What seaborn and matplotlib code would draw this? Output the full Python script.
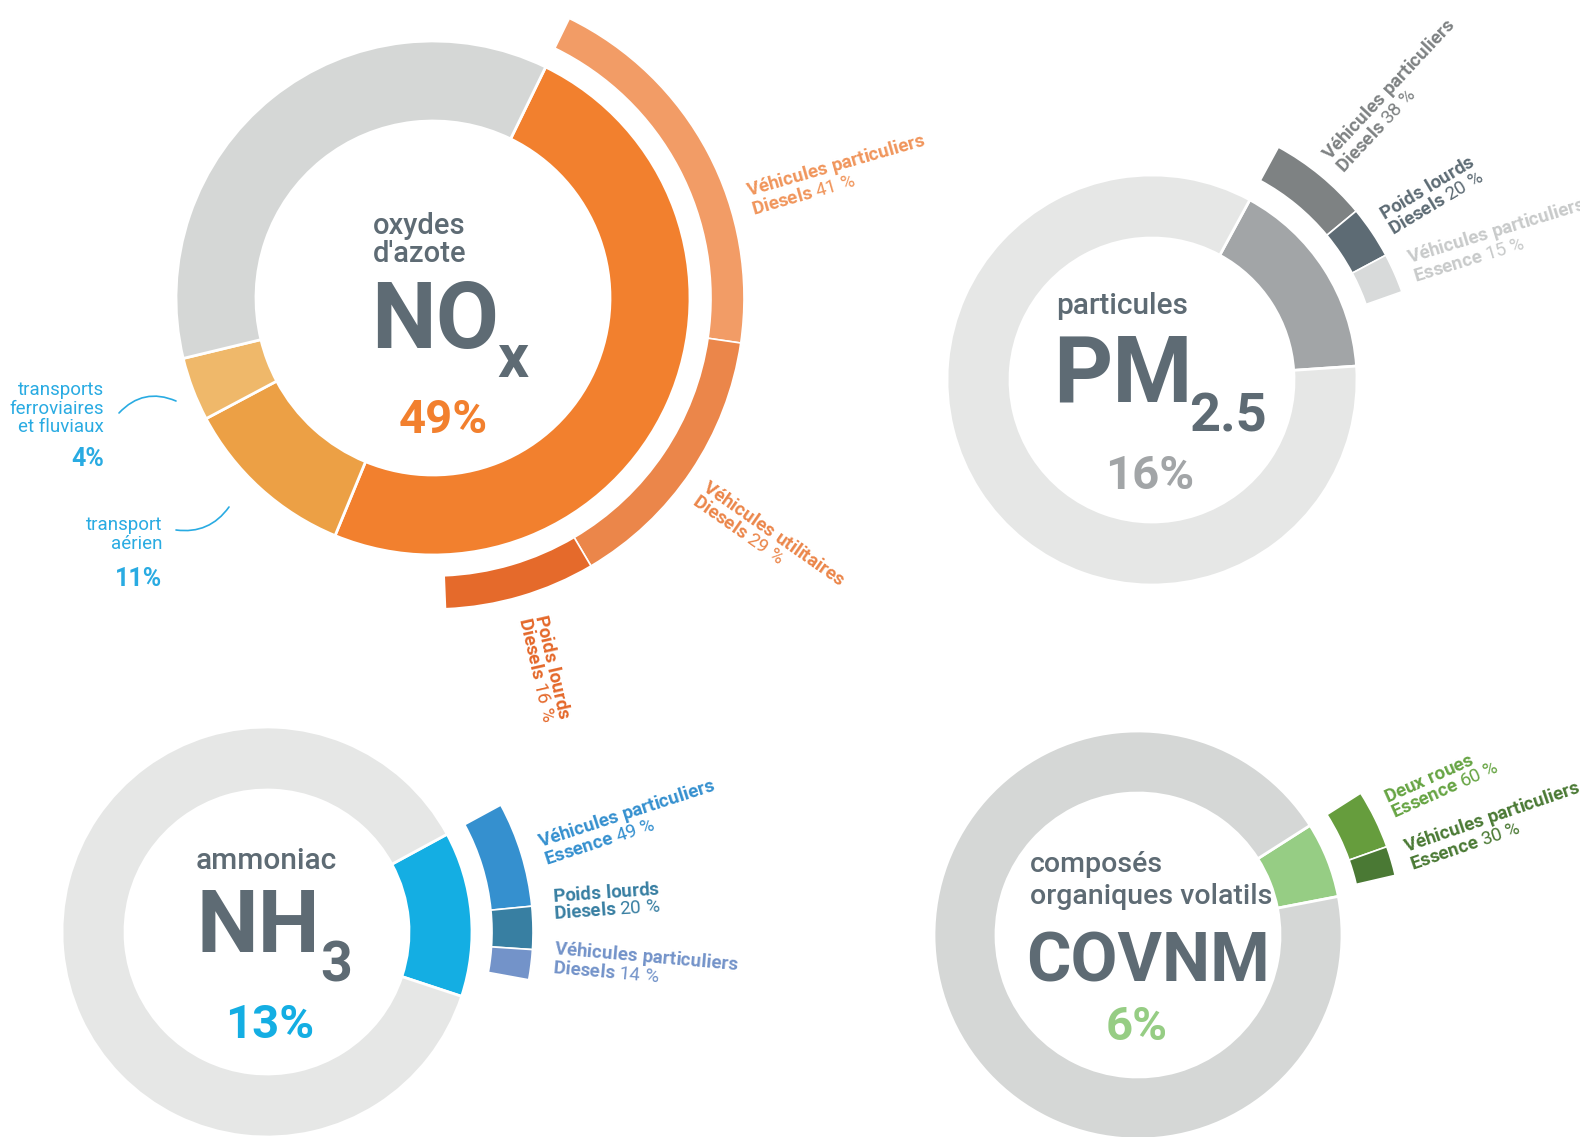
import matplotlib
matplotlib.use("Agg")
import matplotlib.pyplot as plt
import seaborn as sns

# --- data -----------------------------------------------------------------
# share of transport in each pollutant (highlighted slice), %
nox_parts = [49, 11, 4, 36]          # routier, aerien, ferro/fluvial, reste
nox_sub = [41, 29, 16]               # split of the road share
nox_sub_labels = [("Véhicules particuliers", "Diesels", "41 %"),
                  ("Véhicules utilitaires", "Diesels", "29 %"),
                  ("Poids lourds", "Diesels", "16 %")]

pm_share = 16
pm_sub = [38, 20, 15]
pm_sub_labels = [("Véhicules particuliers", "Diesels", "38 %"),
                 ("Poids lourds", "Diesels", "20 %"),
                 ("Véhicules particuliers", "Essence", "15 %")]

nh3_share = 13
nh3_sub = [49, 20, 14]
nh3_sub_labels = [("Véhicules particuliers", "Essence", "49 %"),
                  ("Poids lourds", "Diesels", "20 %"),
                  ("Véhicules particuliers", "Diesels", "14 %")]

cov_share = 6
cov_sub = [60, 30]
cov_sub_labels = [("Deux roues", "Essence", "60 %"),
                  ("Véhicules particuliers", "Essence", "30 %")]

W, H = 1580, 1137

sns.set_style("white")
plt.rcParams['font.family'] = ['Roboto', 'DejaVu Sans']
plt.rcParams['mathtext.fontset'] = 'custom'
plt.rcParams['mathtext.rm'] = 'Roboto'
plt.rcParams['mathtext.bf'] = 'Roboto:bold'
plt.rcParams['mathtext.it'] = 'Roboto:italic'

fig = plt.figure(figsize=(W / 100, H / 100), dpi=100)
ax = fig.add_axes([0, 0, 1, 1])

SLATE = "#5E6B74"
BLUE = "#29ABE2"


def Y(y):
    return H - y


def donut(values, colors, cx, cy, R, r, start):
    ax.pie(values, radius=R, center=(cx, Y(cy)), startangle=start,
           counterclock=False, colors=colors,
           wedgeprops=dict(width=R - r, edgecolor="white", linewidth=2))


def arcs(share, sub, colors, cx, cy, ro, ri, start):
    vals = [share * s / 100 for s in sub]
    vals.append(100 - sum(vals))
    wedges, _ = ax.pie(vals, radius=ro, center=(cx, Y(cy)), startangle=start,
                       counterclock=False, colors=colors + ["none"],
                       wedgeprops=dict(width=ro - ri, edgecolor="white", linewidth=1.2))
    wedges[-1].set_visible(False)


def esc(s):
    return s.replace(" ", r"\ ")


def arc_label(x, y, rot, lab, color, size=13.5):
    l1, l2, pct = lab
    s = "$\\mathbf{%s}$\n$\\mathbf{%s}$ %s" % (esc(l1), esc(l2), pct)
    ax.text(x, Y(y), s, rotation=rot, rotation_mode="anchor", ha="left",
            va="top", color=color, fontsize=size, fontweight="normal",
            linespacing=0.95, zorder=5)


# --- NOx --------------------------------------------------------------------
nx, ny = 433, 298
donut(nox_parts, ["#F2802E", "#ECA045", "#EFB86A", "#D5D7D6"], nx, ny, 257, 177, 64)
nox_cols = ["#F29C66", "#EB864A", "#E56A2B"]
arcs(nox_parts[0], nox_sub, nox_cols, nx, ny, 311, 278, 64)
arc_label(744, 181, 16, nox_sub_labels[0], "#F0955B")
arc_label(709, 478, -35, nox_sub_labels[1], "#EB864A")
arc_label(549, 612, -77, nox_sub_labels[2], "#E4682A")

ax.text(373, Y(212), "oxydes\nd'azote", ha="left", va="top", fontsize=21,
        fontweight="medium", color=SLATE, linespacing=1.0)
ax.text(371, Y(348), "NO", ha="left", va="baseline", fontsize=66,
        fontweight="bold", color=SLATE)
ax.text(497, Y(377), "x", ha="left", va="baseline", fontsize=44,
        fontweight="bold", color=SLATE)
ax.text(443, Y(433), f"{nox_parts[0]}%", ha="center", va="baseline",
        fontsize=34, fontweight="bold", color="#F2802E")

# left annotations
ax.text(104, Y(381), "transports\nferroviaires\net fluviaux", ha="right",
        va="top", fontsize=13.5, color=BLUE, linespacing=1.05)
ax.text(104, Y(466), f"{nox_parts[2]}%", ha="right", va="baseline",
        fontsize=18, fontweight="bold", color=BLUE)
ax.text(162, Y(516), "transport\naérien", ha="right", va="top",
        fontsize=13.5, color=BLUE, linespacing=1.05)
ax.text(162, Y(586), f"{nox_parts[1]}%", ha="right", va="baseline",
        fontsize=18, fontweight="bold", color=BLUE)
ax.annotate("", xy=(176, Y(401)), xytext=(119, Y(413)),
            arrowprops=dict(arrowstyle="-", color=BLUE, lw=1.2,
                            connectionstyle="arc3,rad=-0.35",
                            shrinkA=0, shrinkB=0))
ax.annotate("", xy=(229, Y(507)), xytext=(176, Y(530)),
            arrowprops=dict(arrowstyle="-", color=BLUE, lw=1.2,
                            connectionstyle="arc3,rad=0.3",
                            shrinkA=0, shrinkB=0))

# --- PM2.5 ------------------------------------------------------------------
px, py = 1152, 380
donut([pm_share, 100 - pm_share], ["#A2A5A7", "#E6E7E6"], px, py, 205, 142, 61.5)
arcs(pm_share, pm_sub, ["#7E8283", "#5D6B74", "#D8DADA"], px, py, 265, 227, 61.5)
arc_label(1318, 150, 47, pm_sub_labels[0], "#7E8283")
arc_label(1377, 208, 31, pm_sub_labels[1], "#5D6B74")
arc_label(1405, 248, 17, pm_sub_labels[2], "#C8CACA")

ax.text(1056, Y(314), "particules", ha="left", va="baseline", fontsize=21.5,
        fontweight="medium", color=SLATE)
ax.text(1053, Y(401), "PM", ha="left", va="baseline", fontsize=66,
        fontweight="bold", color=SLATE)
ax.text(1189, Y(431), "2.5", ha="left", va="baseline", fontsize=39,
        fontweight="bold", color=SLATE)
ax.text(1150, Y(489), f"{pm_share}%", ha="center", va="baseline",
        fontsize=34, fontweight="bold", color="#A2A5A7")

# --- NH3 --------------------------------------------------------------------
hx, hy = 267, 932
donut([nh3_share, 100 - nh3_share], ["#14AEE3", "#E6E7E6"], hx, hy, 205, 142, 28.5)
arcs(nh3_share, nh3_sub, ["#3590CF", "#387FA2", "#7393C9"], hx, hy, 266, 225, 28.5)
arc_label(535, 832, 18, nh3_sub_labels[0], "#3590CF")
arc_label(552, 888, 4, nh3_sub_labels[1], "#387FA2")
arc_label(555, 938, -5, nh3_sub_labels[2], "#7393C9")

ax.text(196, Y(869), "ammoniac", ha="left", va="baseline", fontsize=21.5,
        fontweight="medium", color=SLATE)
ax.text(196, Y(952), "NH", ha="left", va="baseline", fontsize=63,
        fontweight="bold", color=SLATE)
ax.text(320, Y(982), "3", ha="left", va="baseline", fontsize=40,
        fontweight="bold", color=SLATE)
ax.text(270, Y(1038), f"{nh3_share}%", ha="center", va="baseline",
        fontsize=34, fontweight="bold", color="#14AEE3")

# --- COVNM ------------------------------------------------------------------
vx, vy = 1138, 935
donut([cov_share, 100 - cov_share], ["#96CD84", "#D5D7D6"], vx, vy, 204, 142, 32.5)
arcs(cov_share, cov_sub, ["#669D3D", "#4A7934"], vx, vy, 264, 224, 32.5)
arc_label(1381, 790, 24, cov_sub_labels[0], "#66A443")
arc_label(1401, 837, 19, cov_sub_labels[1], "#4A7934")

ax.text(1030, Y(872), "composés", ha="left", va="baseline", fontsize=20.5,
        fontweight="medium", color=SLATE)
ax.text(1030, Y(904), "organiques volatils", ha="left", va="baseline",
        fontsize=20.5, fontweight="medium", color=SLATE)
ax.text(1026, Y(982), "COVNM", ha="left", va="baseline", fontsize=49,
        fontweight="bold", color=SLATE)
ax.text(1137, Y(1040), f"{cov_share}%", ha="center", va="baseline",
        fontsize=34, fontweight="bold", color="#96CD84")

ax.set_xlim(0, W)
ax.set_ylim(0, H)
ax.set_aspect("equal")
ax.axis("off")

fig.savefig("out.png", dpi=100, facecolor="white")
